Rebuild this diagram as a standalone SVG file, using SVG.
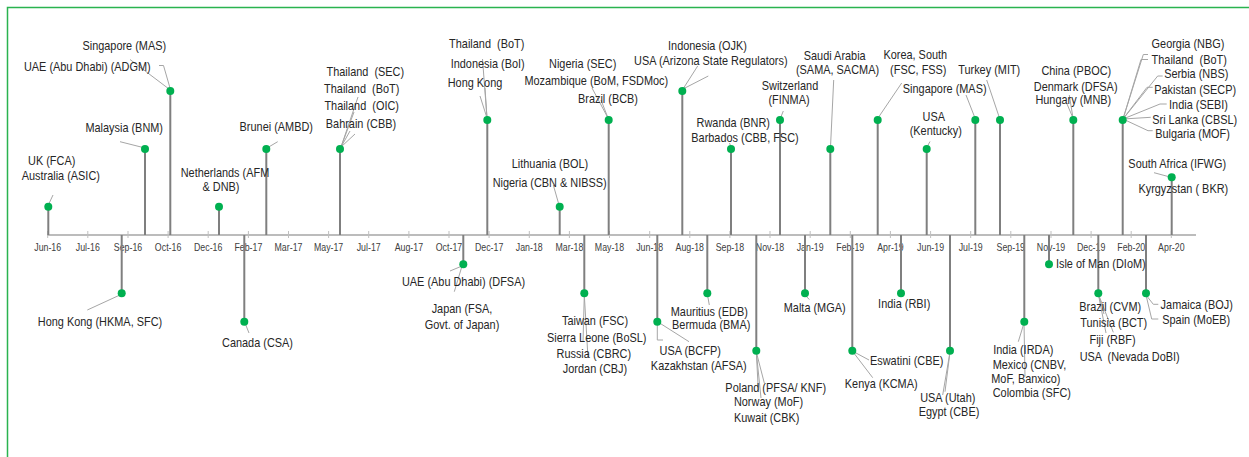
<svg xmlns="http://www.w3.org/2000/svg" width="1249" height="457" viewBox="0 0 1249 457">
<style>
.l{font-family:"Liberation Sans",Arial,sans-serif;font-size:13px;fill:#262626;text-anchor:middle;transform-box:fill-box;transform-origin:center;transform:scaleX(0.84);white-space:pre}
.t{font-family:"Liberation Sans",Arial,sans-serif;font-size:10.5px;fill:#404040;text-anchor:middle;transform-box:fill-box;transform-origin:center;transform:scaleX(0.84)}
.stem{stroke:#7f7f7f;stroke-width:2;fill:none}
.lead{stroke:#a6a6a6;stroke-width:1;fill:none}
.dot{fill:#00b050}
.tick{stroke:#bfbfbf;stroke-width:1}
</style>
<rect x="7.5" y="7.5" width="1260" height="470" fill="#ffffff" stroke="#2ab34f" stroke-width="1.5"/>
<g id="axis">
<line x1="47" y1="235" x2="1196" y2="235" stroke="#a6a6a6" stroke-width="1.5"/>
<g class="tick">
<line x1="47.7" y1="231" x2="47.7" y2="238"/><line x1="87.8" y1="231" x2="87.8" y2="238"/><line x1="128" y1="231" x2="128" y2="238"/><line x1="168.1" y1="231" x2="168.1" y2="238"/><line x1="208.2" y1="231" x2="208.2" y2="238"/><line x1="248.4" y1="231" x2="248.4" y2="238"/><line x1="288.5" y1="231" x2="288.5" y2="238"/><line x1="328.6" y1="231" x2="328.6" y2="238"/><line x1="368.7" y1="231" x2="368.7" y2="238"/><line x1="408.9" y1="231" x2="408.9" y2="238"/><line x1="449" y1="231" x2="449" y2="238"/><line x1="489.1" y1="231" x2="489.1" y2="238"/><line x1="529.3" y1="231" x2="529.3" y2="238"/><line x1="569.4" y1="231" x2="569.4" y2="238"/><line x1="609.5" y1="231" x2="609.5" y2="238"/><line x1="649.7" y1="231" x2="649.7" y2="238"/><line x1="689.8" y1="231" x2="689.8" y2="238"/><line x1="729.9" y1="231" x2="729.9" y2="238"/><line x1="770" y1="231" x2="770" y2="238"/><line x1="810.2" y1="231" x2="810.2" y2="238"/><line x1="850.3" y1="231" x2="850.3" y2="238"/><line x1="890.4" y1="231" x2="890.4" y2="238"/><line x1="930.6" y1="231" x2="930.6" y2="238"/><line x1="970.7" y1="231" x2="970.7" y2="238"/><line x1="1010.8" y1="231" x2="1010.8" y2="238"/><line x1="1051" y1="231" x2="1051" y2="238"/><line x1="1091.1" y1="231" x2="1091.1" y2="238"/><line x1="1131.2" y1="231" x2="1131.2" y2="238"/><line x1="1171.3" y1="231" x2="1171.3" y2="238"/>
</g>
<text class="t" x="47.7" y="251">Jun-16</text><text class="t" x="87.8" y="251">Jul-16</text><text class="t" x="128" y="251">Sep-16</text><text class="t" x="168.1" y="251">Oct-16</text><text class="t" x="208.2" y="251">Dec-16</text><text class="t" x="248.4" y="251">Feb-17</text><text class="t" x="288.5" y="251">Mar-17</text><text class="t" x="328.6" y="251">May-17</text><text class="t" x="368.7" y="251">Jul-17</text><text class="t" x="408.9" y="251">Aug-17</text><text class="t" x="449" y="251">Oct-17</text><text class="t" x="489.1" y="251">Dec-17</text><text class="t" x="529.3" y="251">Jan-18</text><text class="t" x="569.4" y="251">Mar-18</text><text class="t" x="609.5" y="251">May-18</text><text class="t" x="649.7" y="251">Jun-18</text><text class="t" x="689.8" y="251">Aug-18</text><text class="t" x="729.9" y="251">Sep-18</text><text class="t" x="770" y="251">Nov-18</text><text class="t" x="810.2" y="251">Jan-19</text><text class="t" x="850.3" y="251">Feb-19</text><text class="t" x="890.4" y="251">Apr-19</text><text class="t" x="930.6" y="251">Jun-19</text><text class="t" x="970.7" y="251">Jul-19</text><text class="t" x="1010.8" y="251">Sep-19</text><text class="t" x="1051" y="251">Nov-19</text><text class="t" x="1091.1" y="251">Dec-19</text><text class="t" x="1131.2" y="251">Feb-20</text><text class="t" x="1171.3" y="251">Apr-20</text>
</g>
<g id="connectors">
<g class="stem">
<line x1="48.3" y1="235" x2="48.3" y2="206.7"/><line x1="145" y1="235" x2="145" y2="149"/><line x1="170.3" y1="235" x2="170.3" y2="91"/><line x1="219" y1="235" x2="219" y2="206.7"/><line x1="266.3" y1="235" x2="266.3" y2="149"/><line x1="340" y1="235" x2="340" y2="149"/><line x1="487.3" y1="235" x2="487.3" y2="120"/><line x1="559.7" y1="235" x2="559.7" y2="206.7"/><line x1="608.7" y1="235" x2="608.7" y2="120"/><line x1="682.3" y1="235" x2="682.3" y2="91"/><line x1="731" y1="235" x2="731" y2="149"/><line x1="780" y1="235" x2="780" y2="120"/><line x1="830.3" y1="235" x2="830.3" y2="149"/><line x1="877.7" y1="235" x2="877.7" y2="120"/><line x1="926.7" y1="235" x2="926.7" y2="149"/><line x1="975.3" y1="235" x2="975.3" y2="120"/><line x1="1000" y1="235" x2="1000" y2="120"/><line x1="1073.3" y1="235" x2="1073.3" y2="120"/><line x1="1122.7" y1="235" x2="1122.7" y2="120"/><line x1="1171.7" y1="235" x2="1171.7" y2="177.3"/>
<line x1="121.7" y1="235" x2="121.7" y2="293.3"/><line x1="244.3" y1="235" x2="244.3" y2="321.7"/><line x1="463.3" y1="235" x2="463.3" y2="264.3"/><line x1="584.3" y1="235" x2="584.3" y2="293.3"/><line x1="657.3" y1="235" x2="657.3" y2="321.7"/><line x1="707.3" y1="235" x2="707.3" y2="293.3"/><line x1="756.3" y1="235" x2="756.3" y2="350.7"/><line x1="805" y1="235" x2="805" y2="293.3"/><line x1="852.3" y1="235" x2="852.3" y2="350.7"/><line x1="901" y1="235" x2="901" y2="293.3"/><line x1="950" y1="235" x2="950" y2="350.7"/><line x1="1024.3" y1="235" x2="1024.3" y2="321.7"/><line x1="1049" y1="235" x2="1049" y2="264.3"/><line x1="1098.3" y1="235" x2="1098.3" y2="293.3"/><line x1="1146" y1="235" x2="1146" y2="293.3"/>
</g>
<g class="lead">
<line x1="48.8" y1="204" x2="53" y2="195"/>
<line x1="120" y1="141.7" x2="145" y2="148"/>
<line x1="130" y1="59.5" x2="169" y2="89"/><polyline points="159,65.5 163.5,65.5 170,88"/>
<line x1="277.7" y1="141.7" x2="267" y2="148"/>
<line x1="341" y1="147" x2="358" y2="97"/><line x1="341" y1="147" x2="354" y2="112"/><line x1="341" y1="147" x2="350" y2="131"/><line x1="341" y1="147" x2="355" y2="134"/>
<line x1="487" y1="118" x2="482.5" y2="59"/><line x1="487" y1="118" x2="480" y2="96"/><line x1="487" y1="118" x2="485" y2="88"/>
<line x1="553.3" y1="185" x2="559" y2="205"/>
<line x1="608" y1="118" x2="592" y2="88"/><line x1="608" y1="118" x2="601" y2="100"/>
<line x1="697.7" y1="66" x2="683" y2="89"/><line x1="708.3" y1="76" x2="683" y2="89"/>
<line x1="729.5" y1="143" x2="731" y2="147"/>
<line x1="783.3" y1="111" x2="780.5" y2="118"/>
<line x1="833.7" y1="80" x2="830.5" y2="147"/>
<line x1="901.7" y1="83" x2="878" y2="118"/>
<line x1="930" y1="141.5" x2="927" y2="147"/>
<line x1="966" y1="95" x2="975" y2="118"/>
<line x1="986.7" y1="80" x2="999.5" y2="118"/>
<line x1="1069.3" y1="95" x2="1073" y2="118"/><line x1="1067" y1="104" x2="1073" y2="118"/>
<polyline points="1123,119 1143.3,54.5 1148,54.5"/><polyline points="1123,119 1141,59.5 1148,59.5"/><polyline points="1123,119 1157.7,76 1162.7,76"/><polyline points="1123,119 1147,87.3 1152.7,87.3"/><polyline points="1123,119 1160,104 1166.7,104"/><line x1="1123" y1="119" x2="1150.7" y2="117.3"/><polyline points="1123,119 1148,130.7 1152.7,130.7"/>
<line x1="1154" y1="172.7" x2="1170" y2="177"/>
<line x1="121" y1="294.5" x2="87.3" y2="310"/>
<line x1="245" y1="323" x2="249" y2="333"/>
<line x1="462" y1="266" x2="450" y2="271"/><line x1="462" y1="266" x2="454.3" y2="291.7"/>
<line x1="584.3" y1="295" x2="583" y2="342"/><line x1="584.3" y1="295" x2="588" y2="358"/>
<polyline points="657.3,324 657.3,340 663,340"/><line x1="658" y1="322" x2="689" y2="341.7"/>
<line x1="707.5" y1="295" x2="709.3" y2="305"/>
<line x1="756.3" y1="352" x2="758.3" y2="390"/><line x1="756.3" y1="352" x2="764.3" y2="383"/><line x1="756.3" y1="352" x2="761" y2="398"/>
<line x1="805" y1="295" x2="809.3" y2="299.5"/>
<line x1="852.3" y1="351" x2="869" y2="360"/><line x1="852.3" y1="351" x2="872.7" y2="377.7"/>
<line x1="950" y1="352" x2="942.7" y2="395"/><line x1="950" y1="352" x2="945" y2="391.7"/>
<line x1="1024" y1="323" x2="1018.3" y2="341.7"/><line x1="1024" y1="323" x2="1025" y2="376.7"/>
<line x1="1098.3" y1="294" x2="1106" y2="333"/><line x1="1098.3" y1="294" x2="1113.3" y2="332.3"/><line x1="1098.3" y1="294" x2="1104" y2="314"/>
<polyline points="1146,295 1153.3,304.3 1158.3,304.3"/><polyline points="1146,295 1151.7,319 1158.3,319"/>
</g>
</g>
<g id="n-jun16"><circle class="dot" cx="48.3" cy="206.7" r="4"/><text class="l" x="51.7" y="165.5">UK (FCA)</text><text class="l" x="60.8" y="180.3">Australia (ASIC)</text></g>
<g id="n-sep16-up"><circle class="dot" cx="145" cy="149" r="4"/><text class="l" x="124.2" y="131.7">Malaysia (BNM)</text></g>
<g id="n-oct16"><circle class="dot" cx="170.3" cy="91" r="4"/><text class="l" x="124.3" y="50">Singapore (MAS)</text><text class="l" x="87.3" y="70.7">UAE (Abu Dhabi) (ADGM)</text></g>
<g id="n-dec16"><circle class="dot" cx="219" cy="206.7" r="4"/><text class="l" x="225" y="177.5">Netherlands (AFM</text><text class="l" x="221" y="191.5">&amp; DNB)</text></g>
<g id="n-feb17-up"><circle class="dot" cx="266.3" cy="149" r="4"/><text class="l" x="276.3" y="131">Brunei (AMBD)</text></g>
<g id="n-may17"><circle class="dot" cx="340" cy="149" r="4"/><text class="l" x="365.3" y="76" xml:space="preserve">Thailand  (SEC)</text><text class="l" x="361.7" y="92.7" xml:space="preserve">Thailand  (BoT)</text><text class="l" x="361.7" y="110" xml:space="preserve">Thailand  (OIC)</text><text class="l" x="361" y="127.7">Bahrain (CBB)</text></g>
<g id="n-dec17"><circle class="dot" cx="487.3" cy="120" r="4"/><text class="l" x="486.7" y="48.3" xml:space="preserve">Thailand  (BoT)</text><text class="l" x="487.7" y="68.3">Indonesia (BoI)</text><text class="l" x="475" y="86.7">Hong Kong</text></g>
<g id="n-mar18"><circle class="dot" cx="559.7" cy="206.7" r="4"/><text class="l" x="550" y="168.3">Lithuania (BOL)</text><text class="l" x="549.7" y="186.7">Nigeria (CBN &amp; NIBSS)</text></g>
<g id="n-may18"><circle class="dot" cx="608.7" cy="120" r="4"/><text class="l" x="582.7" y="68.3">Nigeria (SEC)</text><text class="l" x="596.3" y="85">Mozambique (BoM, FSDMoc)</text><text class="l" x="608" y="103.3">Brazil (BCB)</text></g>
<g id="n-aug18-up"><circle class="dot" cx="682.3" cy="91" r="4"/><text class="l" x="707.5" y="50">Indonesia (OJK)</text><text class="l" x="710.8" y="65">USA (Arizona State Regulators)</text></g>
<g id="n-sep18"><circle class="dot" cx="731" cy="149" r="4"/><text class="l" x="733.3" y="126.7">Rwanda (BNR)</text><text class="l" x="745" y="141.7">Barbados (CBB, FSC)</text></g>
<g id="n-nov18-up"><circle class="dot" cx="780" cy="120" r="4"/><text class="l" x="790" y="90.5">Switzerland</text><text class="l" x="789" y="104.5">(FINMA)</text></g>
<g id="n-jan19-up"><circle class="dot" cx="830.3" cy="149" r="4"/><text class="l" x="834.7" y="60">Saudi Arabia</text><text class="l" x="837.5" y="74">(SAMA, SACMA)</text></g>
<g id="n-apr19-up"><circle class="dot" cx="877.7" cy="120" r="4"/><text class="l" x="915.3" y="59.3">Korea, South</text><text class="l" x="918.3" y="74">(FSC, FSS)</text></g>
<g id="n-jun19-up"><circle class="dot" cx="926.7" cy="149" r="4"/><text class="l" x="933.8" y="120.7">USA</text><text class="l" x="935.8" y="135">(Kentucky)</text></g>
<g id="n-jul19"><circle class="dot" cx="975.3" cy="120" r="4"/><text class="l" x="944.7" y="92.7">Singapore (MAS)</text></g>
<g id="n-aug19"><circle class="dot" cx="1000" cy="120" r="4"/><text class="l" x="989.2" y="74">Turkey (MIT)</text></g>
<g id="n-oct19"><circle class="dot" cx="1073.3" cy="120" r="4"/><text class="l" x="1076.3" y="75">China (PBOC)</text><text class="l" x="1075.7" y="90.7">Denmark (DFSA)</text><text class="l" x="1073.3" y="104.3">Hungary (MNB)</text></g>
<g id="n-feb20-up"><circle class="dot" cx="1122.7" cy="120" r="4"/><text class="l" x="1188" y="48.3">Georgia (NBG)</text><text class="l" x="1189.2" y="64" xml:space="preserve">Thailand  (BoT)</text><text class="l" x="1196.3" y="78.3">Serbia (NBS)</text><text class="l" x="1195.2" y="94">Pakistan (SECP)</text><text class="l" x="1198.5" y="109.3">India (SEBI)</text><text class="l" x="1194.7" y="124">Sri Lanka (CBSL)</text><text class="l" x="1192.5" y="138.3">Bulgaria (MOF)</text></g>
<g id="n-apr20"><circle class="dot" cx="1171.7" cy="177.3" r="4"/><text class="l" x="1177.2" y="167.7">South Africa (IFWG)</text><text class="l" x="1183.3" y="192.7">Kyrgyzstan ( BKR)</text></g>
<g id="n-sep16-down"><circle class="dot" cx="121.7" cy="293.3" r="4"/><text class="l" x="100" y="325.7">Hong Kong (HKMA, SFC)</text></g>
<g id="n-feb17-down"><circle class="dot" cx="244.3" cy="321.7" r="4"/><text class="l" x="257.5" y="347.3">Canada (CSA)</text></g>
<g id="n-oct17"><circle class="dot" cx="463.3" cy="264.3" r="4"/><text class="l" x="463.5" y="286">UAE (Abu Dhabi) (DFSA)</text><text class="l" x="462" y="312.7">Japan (FSA,</text><text class="l" x="462" y="329.3">Govt. of Japan)</text></g>
<g id="n-apr18"><circle class="dot" cx="584.3" cy="293.3" r="4"/><text class="l" x="595" y="325">Taiwan (FSC)</text><text class="l" x="596.7" y="342.3">Sierra Leone (BoSL)</text><text class="l" x="593.8" y="357.7">Russia (CBRC)</text><text class="l" x="595" y="372.7">Jordan (CBJ)</text></g>
<g id="n-jun18"><circle class="dot" cx="657.3" cy="321.7" r="4"/><text class="l" x="690.2" y="355">USA (BCFP)</text><text class="l" x="698.8" y="370">Kazakhstan (AFSA)</text></g>
<g id="n-aug18-down"><circle class="dot" cx="707.3" cy="293.3" r="4"/><text class="l" x="709.3" y="315.7">Mauritius (EDB)</text><text class="l" x="711.2" y="329.3">Bermuda (BMA)</text></g>
<g id="n-nov18-down"><circle class="dot" cx="756.3" cy="350.7" r="4"/><text class="l" x="775.7" y="391.7">Poland (PFSA/ KNF)</text><text class="l" x="768.5" y="406">Norway (MoF)</text><text class="l" x="766.7" y="421.7">Kuwait (CBK)</text></g>
<g id="n-jan19-down"><circle class="dot" cx="805" cy="293.3" r="4"/><text class="l" x="814.7" y="312.3">Malta (MGA)</text></g>
<g id="n-feb19"><circle class="dot" cx="852.3" cy="350.7" r="4"/><text class="l" x="906.7" y="365">Eswatini (CBE)</text><text class="l" x="881.2" y="388.3">Kenya (KCMA)</text></g>
<g id="n-apr19-down"><circle class="dot" cx="901" cy="293.3" r="4"/><text class="l" x="904.2" y="308.3">India (RBI)</text></g>
<g id="n-jun19-down"><circle class="dot" cx="950" cy="350.7" r="4"/><text class="l" x="947.8" y="401.7">USA (Utah)</text><text class="l" x="949" y="415.7">Egypt (CBE)</text></g>
<g id="n-sep19"><circle class="dot" cx="1024.3" cy="321.7" r="4"/><text class="l" x="1023.3" y="354.3">India (IRDA)</text><text class="l" x="1029.5" y="369">Mexico (CNBV,</text><text class="l" x="1025.8" y="382.7">MoF, Banxico)</text><text class="l" x="1031.8" y="397.3">Colombia (SFC)</text></g>
<g id="n-nov19"><circle class="dot" cx="1049" cy="264.3" r="4"/><text class="l" x="1100.8" y="268.3">Isle of Man (DIoM)</text></g>
<g id="n-dec19"><circle class="dot" cx="1098.3" cy="293.3" r="4"/><text class="l" x="1110.2" y="311">Brazil (CVM)</text><text class="l" x="1113.7" y="326.7">Tunisia (BCT)</text><text class="l" x="1112.5" y="344">Fiji (RBF)</text><text class="l" x="1129.7" y="361" xml:space="preserve">USA  (Nevada DoBI)</text></g>
<g id="n-feb20-down"><circle class="dot" cx="1146" cy="293.3" r="4"/><text class="l" x="1196.7" y="309">Jamaica (BOJ)</text><text class="l" x="1196.2" y="324">Spain (MoEB)</text></g>
</svg>
